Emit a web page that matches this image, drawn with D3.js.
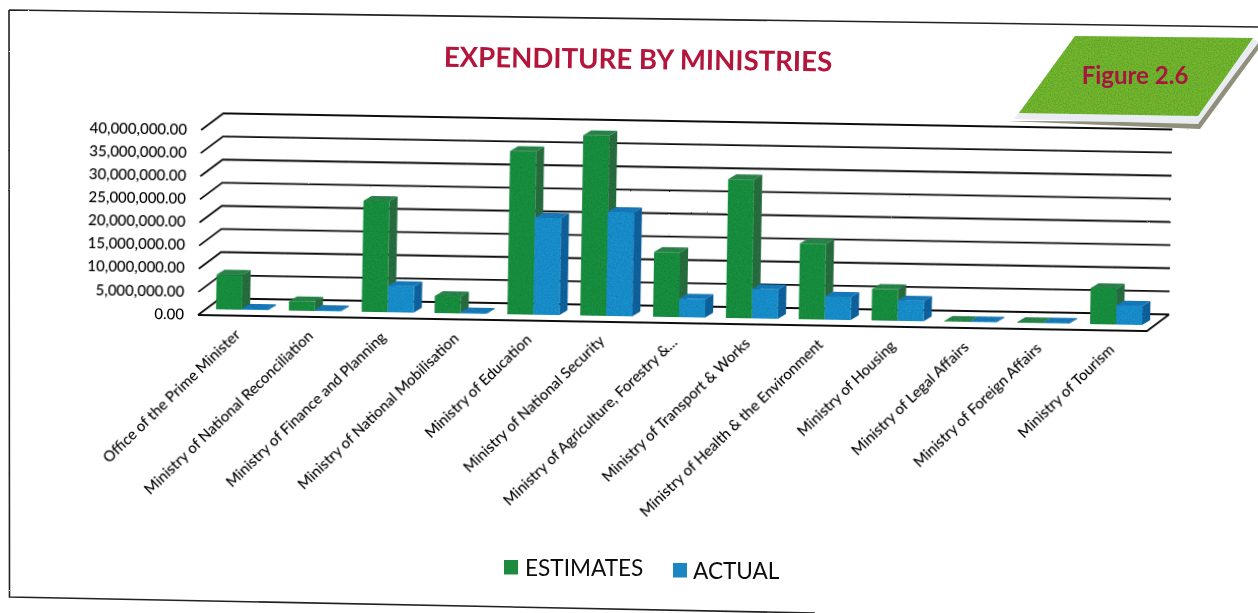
<!DOCTYPE html>
<html><head><meta charset="utf-8">
<script src="https://cdnjs.cloudflare.com/ajax/libs/d3/7.8.5/d3.min.js"></script>
<style>html,body{margin:0;padding:0;background:#fff;overflow:hidden}svg{display:block}text{font-family:Lato,"Open Sans",sans-serif}</style>
</head><body><svg id="c" width="1258" height="613"></svg>
<script>
const categories=["Office of the Prime Minister","Ministry of National Reconciliation","Ministry of Finance and Planning","Ministry of National Mobilisation","Ministry of Education","Ministry of National Security","Ministry of Agriculture, Forestry &...","Ministry of Transport & Works","Ministry  of Health & the Environment","Ministry of Housing","Ministry of Legal Affairs","Ministry of Foreign Affairs","Ministry of Tourism"];
const estimates=[7500000,2000000,24000000,3700000,35300000,39000000,14000000,30000000,16400000,6800000,150000,150000,7800000];
const actual=[200000,200000,5700000,200000,21000000,22500000,4000000,6300000,5000000,4400000,150000,150000,4100000];
const seriesNames=["ESTIMATES","ACTUAL"];
const tickValues=[0,5000000,10000000,15000000,20000000,25000000,30000000,35000000,40000000];

const svg=d3.select("#c");
const defs=svg.append("defs");
const rough=defs.append("filter").attr("id","rough").attr("filterUnits","userSpaceOnUse").attr("x",-300).attr("y",-400).attr("width",1700).attr("height",1100);
rough.append("feTurbulence").attr("type","fractalNoise").attr("baseFrequency","0.95").attr("numOctaves",1).attr("seed",3).attr("result","n");
rough.append("feDisplacementMap").attr("in","SourceGraphic").attr("in2","n").attr("scale",1.6);
const grain=defs.append("filter").attr("id","grain").attr("x","0").attr("y","0").attr("width","100%").attr("height","100%");
grain.append("feTurbulence").attr("type","fractalNoise").attr("baseFrequency","0.7").attr("numOctaves",2).attr("seed",8).attr("result","n");
grain.append("feColorMatrix").attr("in","n").attr("type","matrix").attr("values","0 0 0 0 0  0 0 0 0 0  0 0 0 0 0  0.6 0 0 0 -0.17").attr("result","g");
grain.append("feComposite").attr("in","g").attr("in2","SourceGraphic").attr("operator","in").attr("result","gi");
grain.append("feMerge").selectAll("feMergeNode").data(["SourceGraphic","gi"]).join("feMergeNode").attr("in",d=>d);
const soft=defs.append("filter").attr("id","soft");
soft.append("feGaussianBlur").attr("stdDeviation",0.35);

const root=svg.append("g").attr("filter","url(#soft)");
const O={x:198,y:315};
const wallDepth={x:22,y:-17}, barDepth={x:8,y:-5}, barLift=-6, barShift=7.5;
const W=949,H=185;
const chart=root.append("g").attr("transform",`translate(${O.x},${O.y}) rotate(0.97)`);
const x=d3.scaleBand().domain(categories).range([0,947]).paddingInner(0).paddingOuter(0);
const inner=d3.scaleBand().domain(seriesNames).range([0,52]);
const y=d3.scaleLinear().domain([0,40000000]).range([0,-H]);
const path=pts=>d3.line()(pts);

const grid=chart.append("g").attr("filter","url(#rough)").attr("fill","none").attr("stroke","#111").attr("stroke-width",1.8);
tickValues.forEach(t=>{
  grid.append("path").attr("d",path([[0,y(t)],[wallDepth.x,y(t)+wallDepth.y],[W+wallDepth.x,y(t)+wallDepth.y]]));
});
grid.append("path").attr("d",path([[0,0],[W,0],[W+wallDepth.x,wallDepth.y]]));

const yAxis=d3.axisLeft(y).tickValues(tickValues).tickSize(0).tickPadding(14).tickFormat(d3.format(",.2f"));
const ya=chart.append("g").call(yAxis);
ya.select(".domain").remove();
ya.selectAll("text").attr("font-size",15).attr("fill","#000").attr("dy","0.28em").attr("font-weight",500);

const xAxis=d3.axisBottom(x).tickSize(0);
const xa=chart.append("g").call(xAxis);
xa.select(".domain").remove();
xa.selectAll("text").attr("font-size",15).attr("fill","#000").attr("font-weight",500).attr("text-anchor","end").attr("transform","translate(5,18) rotate(-45)").attr("dy",0);

const colors={ESTIMATES:{f:"#1f9442",t:"#2f8a50",s:"#2b7242"},ACTUAL:{f:"#1b94d4",t:"#1c7fc2",s:"#1566a4"}};
const bars=chart.append("g").attr("filter","url(#grain)");
categories.forEach((c,i)=>{
  [["ESTIMATES",estimates[i]],["ACTUAL",actual[i]]].forEach(([s,v])=>{
    const L=x(c)+(x.bandwidth()-52)/2+barShift+inner(s), R=L+inner.bandwidth();
    const B=barLift, T=barLift+y(v), dx=barDepth.x, dy=barDepth.y;
    const g=bars.append("g");
    g.append("path").attr("fill",colors[s].s).attr("d",path([[R,B],[R+dx,B+dy],[R+dx,T+dy],[R,T]])+"Z");
    g.append("path").attr("fill",colors[s].t).attr("d",path([[L,T],[L+dx,T+dy],[R+dx,T+dy],[R,T]])+"Z");
    g.append("path").attr("fill",colors[s].f).attr("d",path([[L,B],[R,B],[R,T],[L,T]])+"Z");
  });
});

// page frame
root.append("path").attr("filter","url(#rough)").attr("fill","none").attr("stroke","#222").attr("stroke-width",1.6).attr("d","M9,10 L1258,27 M9,10 L9.5,597 L815,613");

root.append("text").attr("x",638).attr("y",69).attr("text-anchor","middle").attr("font-size",27.6).attr("font-weight",700).attr("fill","#b3133a").attr("transform","rotate(0.7 638 60)").text("EXPENDITURE BY MINISTRIES");

// figure badge
root.append("path").attr("fill","#8f8f7a").attr("filter","url(#rough)").attr("d","M1008,121 L1200,129 L1258,50 L1258,43 L1198,122 Z");
root.append("path").attr("fill","#e9ecf3").attr("d","M1075,36 L1253,38 L1258,42 L1198,124 L1014,119 Z");
root.append("path").attr("fill","#74bb32").attr("filter","url(#grain)").attr("d","M1075,36 L1253,38 L1198,116 L1019,113 Z");
root.append("text").attr("x",1135).attr("y",84).attr("text-anchor","middle").attr("font-size",24).attr("font-weight",700).attr("fill","#a8163f").text("Figure 2.6");

// legend
const legend=root.append("g");
[[504,560,525,576,"#1f8b3f",seriesNames[0]],[673,563,693,579,"#1a86c4",seriesNames[1]]].forEach(([a,b,c,d,col,t])=>{
  legend.append("rect").attr("x",a).attr("y",b).attr("width",14).attr("height",14.5).attr("fill",col);
  legend.append("text").attr("x",c).attr("y",d).attr("font-size",22.6).attr("fill","#111").text(t);
});
</script></body></html>
